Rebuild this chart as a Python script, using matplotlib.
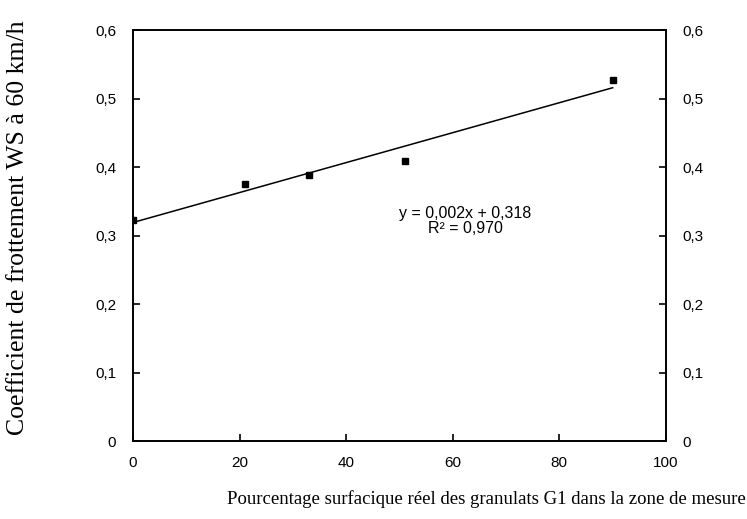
import numpy as np
import matplotlib.pyplot as plt

# data
pct_g1 = [0, 21, 33, 51, 90]
coef_ws = [0.323, 0.375, 0.388, 0.409, 0.527]
x_ticks = [0, 20, 40, 60, 80, 100]
y_ticks = [0, 0.1, 0.2, 0.3, 0.4, 0.5, 0.6]
eq_text = "y = 0,002x + 0,318\nR² = 0,970"

fig = plt.figure(figsize=(7.47, 5.19), dpi=100)
ax = fig.add_axes([0.178, 0.150, 0.7135, 0.792])

ax.plot(pct_g1, coef_ws, 's', color='black', markersize=4.5, zorder=3)

# linear trend line over the data range
a, b = np.polyfit(pct_g1, coef_ws, 1)
xs = np.array([min(pct_g1), max(pct_g1)])
ax.plot(xs, a * xs + b, color='black', linewidth=1.1)

ax.text(62.3, 0.322, eq_text, ha='center', va='center', fontsize=11.5,
        family='Liberation Sans', linespacing=1.0)

ax.set_xlim(0, 100)
ax.set_ylim(0, 0.6)
ax.set_xticks(x_ticks)
ax.set_yticks(y_ticks)
ax.set_xticklabels([str(v) for v in x_ticks], family='Liberation Sans', fontsize=11)
ax.set_yticklabels(['0' if v == 0 else f"{v:.1f}".replace('.', ',') for v in y_ticks],
                   family='Liberation Sans', fontsize=11)
ax.tick_params(direction='in', length=5, width=1.2, right=True, labelright=True,
               top=False)
ax.tick_params(axis='x', pad=11)
ax.tick_params(axis='y', pad=12)
for s in ax.spines.values():
    s.set_linewidth(1.4)

ax.set_xlabel("Pourcentage surfacique réel des granulats G1 dans la zone de mesure",
              family='Liberation Serif', fontsize=13.5)
ax.set_ylabel("Coefficient de frottement WS à 60 km/h",
              family='Liberation Serif', fontsize=18.5)
ax.yaxis.set_label_coords(-0.195, 0.52)
ax.xaxis.set_label_coords(0.664, -0.119)

fig.savefig('out.png', dpi=100)
